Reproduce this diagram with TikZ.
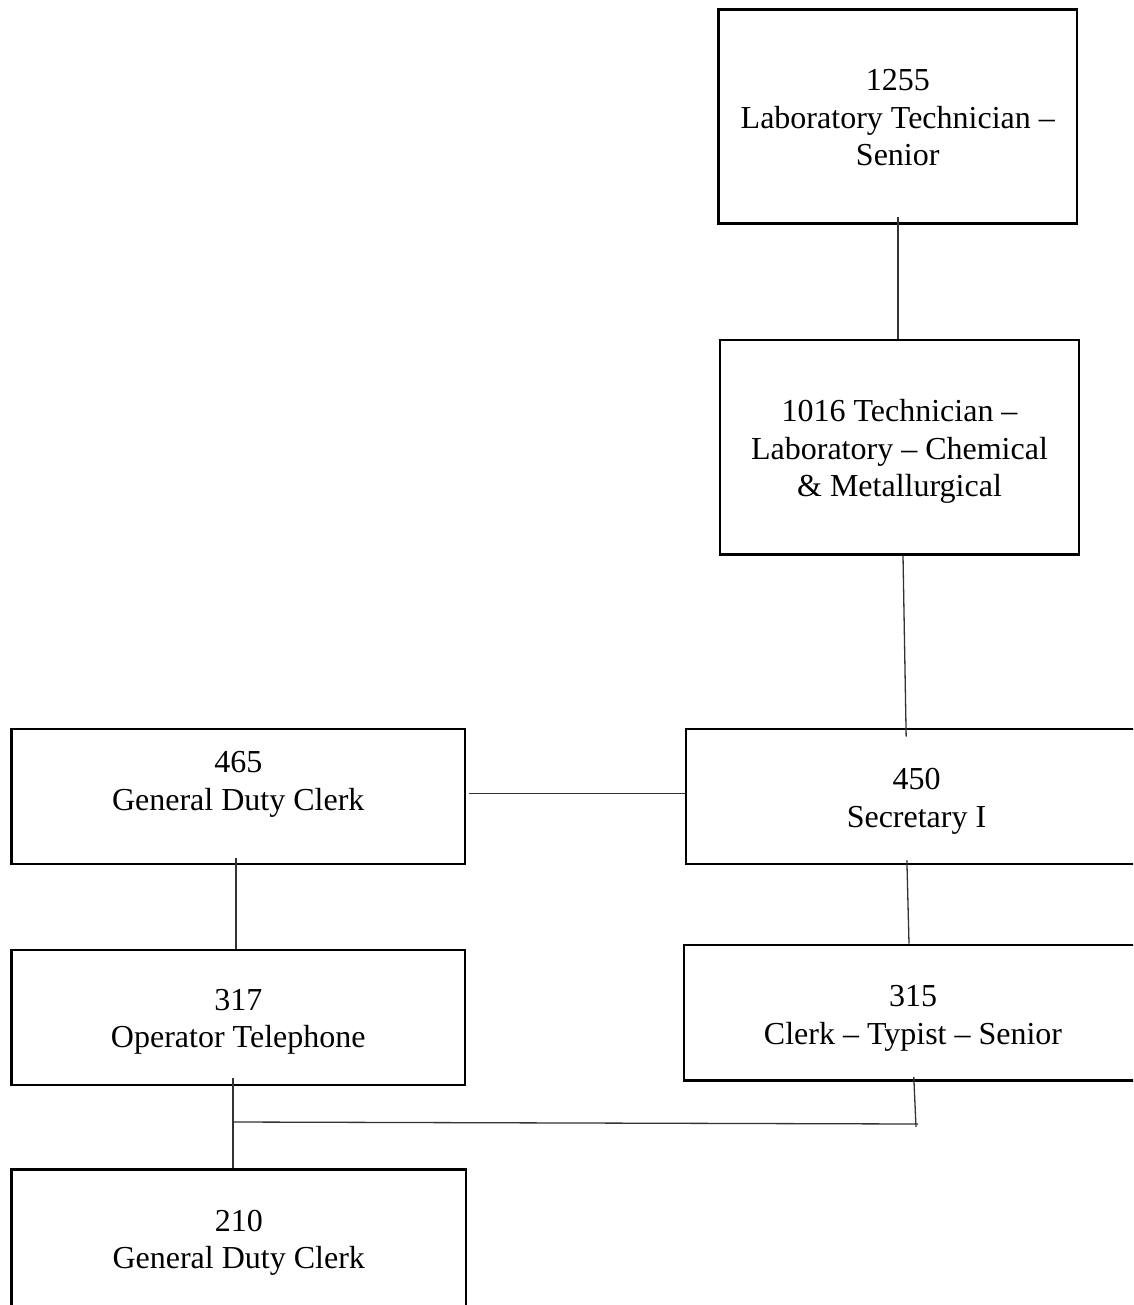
\documentclass[tikz,border=0pt]{standalone}
\usepackage{fontspec}
\setmainfont{Liberation Serif}
\usetikzlibrary{calc}
\begin{document}
\begin{tikzpicture}[x=1pt,y=-1pt,
  jobbox/.style={draw=black,line width=2.6pt,rectangle,inner sep=0pt,
    minimum width=#1},
  jobtext/.style={align=center,inner sep=0pt,
    font=\fontsize{32}{37.5}\selectfont},
  link/.style={draw=black!80,line width=1.3pt}]
\useasboundingbox (0,0) rectangle (1133,1305);
\clip (0,0) rectangle (1133,1305);

% position boxes
\node[jobbox=358.5pt,minimum height=214pt]   (n1255) at (897.75,116.5) {};
\node[jobbox=359pt,minimum height=214.5pt]   (n1016) at (899.5,447.25) {};
\node[jobbox=453.5pt,minimum height=135pt]   (n465)  at (238.25,796.5) {};
\node[jobbox=461pt,minimum height=135pt]     (n450)  at (916.5,796.5) {};
\node[jobbox=453.5pt,minimum height=135pt]   (n317)  at (238.25,1017.5) {};
\node[jobbox=458pt,minimum height=135.5pt]   (n315)  at (913,1012.75) {};
\node[jobbox=454.5pt,minimum height=141pt]   (n210)  at (238.75,1240) {};

% titles
\node[jobtext] (t1255) at ([yshift=-1.5pt]n1255.center) {1255\\Laboratory Technician –\\Senior};
\node[jobtext] (t1016) at ([yshift=-4.5pt]n1016.center) {1016 Technician –\\Laboratory – Chemical\\\& Metallurgical};
\node[jobtext] (t465)  at ([yshift=12pt]n465.center) {465\\General Duty Clerk};
\node[jobtext] (t450)  at ([yshift=-5pt]n450.center) {450\\Secretary I};
\node[jobtext] (t317)  at ([yshift=-4.5pt]n317.center) {317\\Operator Telephone};
\node[jobtext] (t315)  at ([yshift=-5.5pt]n315.center) {315\\Clerk – Typist – Senior};
\node[jobtext] (t210)  at ([yshift=-3pt]n210.center) {210\\General Duty Clerk};

% reporting lines
\draw[link,shorten <=-8pt] (898,0 |- n1255.south) -- (898,0 |- n1016.north);
\draw[link,shorten >=-9pt] (903,0 |- n1016.south) -- (906,0 |- n450.north);
\draw[link,shorten <=3pt] ([yshift=3pt]n465.east) -- ([yshift=3pt]n450.west);
\draw[link,shorten <=-7pt] (236,0 |- n465.south) -- (236,0 |- n317.north);
\draw[link,shorten <=-5pt] (907,0 |- n450.south) -- (909,0 |- n315.north);
\draw[link,shorten <=-8pt] (233,0 |- n317.south) -- (233,0 |- n210.north);

% shared line joining 315 into the 317 -> 210 branch
\coordinate (jl) at (233,1122);
\coordinate (jr) at (916,1124);
\draw[link] (jl) -- ([xshift=2pt]jr);
\draw[link,shorten <=-5pt] (914,0 |- n315.south) -- ([yshift=-3pt]jr);
\end{tikzpicture}
\end{document}
